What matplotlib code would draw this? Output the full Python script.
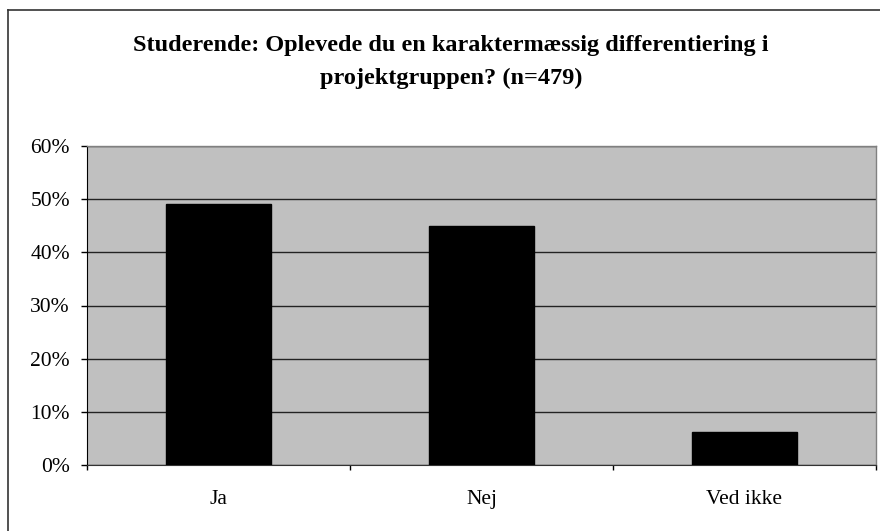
import matplotlib
matplotlib.use("Agg")
import matplotlib.pyplot as plt
from matplotlib.lines import Line2D
import numpy as np

categories = ["Ja", "Nej", "Ved ikke"]
values = [49.0, 45.0, 6.3]
yticks = [0, 10, 20, 30, 40, 50, 60]
title_lines = ["Studerende: Oplevede du en karaktermæssig differentiering i",
               "projektgruppen? (n=479)"]

W, H = 880, 531
fig = plt.figure(figsize=(W / 100, H / 100), dpi=100)
fig.patch.set_facecolor("white")

left, right, top, bottom = 87, 876, 146, 465
ax = fig.add_axes([left / W, (H - bottom) / H, (right - left) / W, (bottom - top) / H])
ax.set_facecolor("#C0C0C0")

x = np.arange(len(categories))
ax.bar(x, values, width=0.4, color="black", edgecolor="black", zorder=3)
ax.set_xlim(-0.5, len(categories) - 0.5)
ax.set_ylim(0, 60)

ax.set_yticks(yticks)
ax.set_yticklabels([f"{t}%" for t in yticks], fontsize=15.5, family="Liberation Serif")
ax.yaxis.grid(True, color="#222222", linewidth=1.0, zorder=1)
ax.set_axisbelow(True)

ax.set_xticks(np.arange(-0.5, len(categories), 1.0))
ax.set_xticklabels([])
ax.set_xticks(x, minor=True)
ax.set_xticklabels(categories, minor=True, fontsize=15.5, family="Liberation Serif")
ax.tick_params(axis="x", which="minor", length=0, pad=18)
ax.tick_params(axis="x", which="major", length=3.6, width=1, color="black", direction="out")
ax.tick_params(axis="y", length=4.3, width=1, color="black", direction="out", pad=8)

for s in ["top", "right"]:
    ax.spines[s].set_color("#808080")
    ax.spines[s].set_linewidth(1.0)
ax.spines["left"].set_color("black")
ax.spines["bottom"].set_color("#333333")

for line, yc in zip(title_lines, [45, 78]):
    fig.text(451 / W, 1 - yc / H, line, ha="center", va="center", fontsize=17.5,
             fontweight="bold", family="Liberation Serif")

# outer chart border (top and left visible)
fig.add_artist(Line2D([8 / W, 1.0], [1 - 10 / H, 1 - 10 / H], transform=fig.transFigure,
                      color="#333333", linewidth=1.2))
fig.add_artist(Line2D([8 / W, 8 / W], [1 - 10 / H, 0.0], transform=fig.transFigure,
                      color="#333333", linewidth=1.2))

fig.savefig("out.png", dpi=100)
